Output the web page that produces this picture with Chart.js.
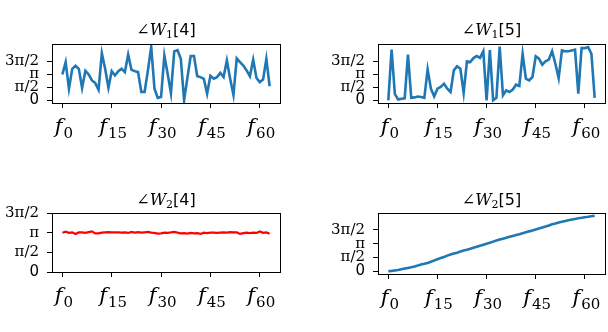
<!DOCTYPE html>
<html>
<head>
<meta charset="UTF-8">
<title>∠W phases</title>
<script src="https://cdn.jsdelivr.net/npm/chart.js"></script>
<style>
  body { margin: 0; background: #fff; }
  #wrap { position: relative; width: 608px; height: 332px; overflow: hidden; }
  canvas { position: absolute; left: 0; top: 0; }
  .title { position: absolute; text-align: center; font-family: 'DejaVu Sans'; font-size: 16px; line-height: 16px; color: #000; white-space: nowrap; }
  .title .m { font-family: 'DejaVu Serif'; }
  .title i { font-family: 'DejaVu Serif'; font-style: italic; }
  .title sub { font-family: 'DejaVu Serif'; font-size: 11px; vertical-align: -3px; line-height: 0; }
</style>
</head>
<body>
<div id="wrap">
  <canvas id="c1" width="608" height="332"></canvas>
  <canvas id="c2" width="608" height="332"></canvas>
  <canvas id="c3" width="608" height="332"></canvas>
  <canvas id="c4" width="608" height="332"></canvas>
  <div class="title" style="left:52px;width:228px;top:22px"><span class="m">∠<i>W</i><sub>1</sub></span>[4]</div>
  <div class="title" style="left:378px;width:227px;top:22px"><span class="m">∠<i>W</i><sub>1</sub></span>[5]</div>
  <div class="title" style="left:52px;width:228px;top:192px"><span class="m">∠<i>W</i><sub>2</sub></span>[4]</div>
  <div class="title" style="left:378px;width:227px;top:192px"><span class="m">∠<i>W</i><sub>2</sub></span>[5]</div>
</div>
<script>
// frequency ticks: f with a subscript index
var freqTicks = [0, 15, 30, 45, 60];
var freqSubs = ['0', '15', '30', '45', '60'];

// phase ticks
var phaseTicks = [0, Math.PI / 2, Math.PI, 3 * Math.PI / 2];
var phaseLabels = ['0', 'π/2', 'π', '3π/2'];

// phase of W1[4], W1[5], W2[4], W2[5] (radians), one value per frequency bin f0..f63
var w1_4 = [3.12, 4.6, 1.4, 3.8, 4.16, 3.8, 1.48, 3.56, 3.12, 2.4,
            2.08, 1.28, 5.68, 3.8, 1.52, 3.52, 3.0, 3.52, 3.8, 3.4,
            5.52, 3.68, 3.52, 3.4, 1.0, 1.0, 3.6, 6.47, 1.4, 0.3,
            0.4, 5.4, 3.2, 0.85, 5.9, 6.05, 5.0, 0.0, 2.7, 5.35,
            5.35, 2.9, 2.8, 2.6, 0.8, 2.95, 2.6, 2.8, 3.3, 2.8,
            4.8, 2.6, 0.65, 5.05, 4.6, 4.2, 3.6, 2.9, 4.9, 2.7,
            2.2, 2.5, 5.0, 1.7];

var w1_5 = [0.0, 6.1, 0.75, 0.1, 0.2, 0.25, 5.5, 0.3, 0.35, 0.45,
            0.4, 0.3, 3.72, 1.4, 0.48, 1.4, 1.6, 2.0, 1.4, 1.0,
            3.6, 4.1, 3.8, 0.9, 4.68, 4.6, 5.08, 5.32, 5.1, 5.9,
            0.0, 6.05, 0.0, 0.3, 6.45, 0.6, 1.2, 1.0, 1.3, 1.88,
            1.72, 5.6, 2.6, 2.4, 2.8, 5.3, 5.0, 4.28, 4.7, 4.9,
            5.9, 4.4, 2.68, 6.0, 5.9, 5.9, 6.0, 6.1, 0.8, 6.28,
            6.28, 6.4, 5.6, 0.3];

var w2_4 = [3.14, 3.22, 3.13, 3.17, 3.04, 3.16, 3.16, 3.12, 3.18, 3.24,
            3.08, 3.08, 3.14, 3.17, 3.18, 3.16, 3.17, 3.17, 3.14, 3.16,
            3.12, 3.2, 3.14, 3.18, 3.14, 3.17, 3.2, 3.15, 3.12, 3.06,
            3.09, 3.14, 3.13, 3.16, 3.2, 3.14, 3.09, 3.1, 3.06, 3.12,
            3.08, 3.1, 3.04, 3.14, 3.11, 3.14, 3.14, 3.12, 3.14, 3.16,
            3.15, 3.18, 3.17, 3.16, 3.04, 3.1, 3.14, 3.1, 3.14, 3.12,
            3.24, 3.13, 3.16, 3.06];

var w2_5 = [0.0, 0.04, 0.09, 0.13, 0.22, 0.3, 0.38, 0.46, 0.55, 0.65,
            0.76, 0.85, 0.95, 1.08, 1.22, 1.38, 1.5, 1.62, 1.78, 1.9,
            2.02, 2.12, 2.24, 2.36, 2.45, 2.56, 2.68, 2.8, 2.92, 3.02,
            3.14, 3.25, 3.38, 3.5, 3.61, 3.72, 3.82, 3.93, 4.03, 4.13,
            4.22, 4.33, 4.44, 4.55, 4.64, 4.76, 4.88, 4.99, 5.1, 5.22,
            5.35, 5.44, 5.55, 5.65, 5.74, 5.82, 5.9, 5.97, 6.04, 6.1,
            6.17, 6.22, 6.28, 6.33];

var Y_AXIS_W = 50;
var X_AXIS_H = 40;

// black box round the plot area
var frameBox = {
  id: 'frameBox',
  afterDraw: function(chart) {
    var a = chart.chartArea;
    var ctx = chart.ctx;
    ctx.save();
    ctx.strokeStyle = '#000';
    ctx.lineWidth = 1;
    ctx.strokeRect(Math.round(a.left) + 0.5, Math.round(a.top) + 0.5,
                   Math.round(a.right - a.left), Math.round(a.bottom - a.top));
    ctx.restore();
  }
};

// x tick labels: italic f + upright subscript, placed by the x scale
var freqLabelDraw = {
  id: 'freqLabelDraw',
  afterDraw: function(chart) {
    var sx = chart.scales.x;
    var ctx = chart.ctx;
    var base = chart.chartArea.bottom + 30;
    ctx.save();
    ctx.fillStyle = '#000';
    ctx.textAlign = 'left';
    ctx.textBaseline = 'alphabetic';
    freqTicks.forEach(function(v, i) {
      ctx.font = 'italic 21px "DejaVu Serif"';
      var fw = ctx.measureText('f').width;
      ctx.font = '15px "DejaVu Serif"';
      var sw = ctx.measureText(freqSubs[i]).width;
      var x0 = sx.getPixelForValue(v) - (fw + 1 + sw) / 2 + 1.5;
      ctx.font = 'italic 21px "DejaVu Serif"';
      ctx.fillText('f', x0, base);
      ctx.font = '15px "DejaVu Serif"';
      ctx.fillText(freqSubs[i], x0 + fw + 1, base + 5);
    });
    ctx.restore();
  }
};

function autoRange(values) {
  var lo = Math.min.apply(null, values), hi = Math.max.apply(null, values);
  var m = (hi - lo) * 0.05;
  return [lo - m, hi + m];
}

function makeChart(id, values, color, lineW, area, yRange) {
  var n = values.length - 1;
  new Chart(document.getElementById(id), {
    type: 'line',
    data: {
      datasets: [{
        data: values.map(function(v, i) { return { x: i, y: v }; }),
        borderColor: color,
        borderWidth: lineW,
        pointRadius: 0,
        tension: 0,
        fill: false
      }]
    },
    options: {
      responsive: false,
      animation: false,
      events: [],
      layout: {
        padding: {
          left: area.left - Y_AXIS_W,
          top: area.top,
          right: 608 - area.right,
          bottom: 332 - area.bottom - X_AXIS_H
        }
      },
      plugins: { legend: { display: false }, tooltip: { enabled: false } },
      scales: {
        x: {
          type: 'linear',
          min: -0.05 * n,
          max: n * 1.05,
          afterBuildTicks: function(ax) { ax.ticks = freqTicks.map(function(v) { return { value: v }; }); },
          afterFit: function(ax) { ax.height = X_AXIS_H; },
          ticks: { display: false, autoSkip: false },
          grid: { drawOnChartArea: false, tickLength: 5, color: '#000' },
          border: { display: false }
        },
        y: {
          type: 'linear',
          min: yRange[0],
          max: yRange[1],
          afterBuildTicks: function(ax) { ax.ticks = phaseTicks.map(function(v) { return { value: v }; }); },
          afterFit: function(ax) { ax.width = Y_AXIS_W; },
          ticks: {
            autoSkip: false, padding: 8, color: '#000',
            font: function(c) {
              return c.index === 0 ? { family: 'DejaVu Sans', size: 15 } : { family: 'DejaVu Serif', size: 15 };
            },
            callback: function(v, i) { return phaseLabels[i]; }
          },
          grid: { drawOnChartArea: false, tickLength: 5, color: '#000' },
          border: { display: false }
        }
      }
    },
    plugins: [frameBox, freqLabelDraw]
  });
}

makeChart('c1', w1_4, '#1f77b4', 2.6, { left: 52, right: 280, top: 44, bottom: 103 }, autoRange(w1_4));
makeChart('c2', w1_5, '#1f77b4', 2.6, { left: 378, right: 605, top: 44, bottom: 103 }, autoRange(w1_5));
makeChart('c3', w2_4, '#ff0000', 2.2, { left: 52, right: 280, top: 213, bottom: 272 }, [0, 3 * Math.PI / 2]);
makeChart('c4', w2_5, '#1f77b4', 2.6, { left: 378, right: 605, top: 213, bottom: 274 }, autoRange(w2_5));
</script>
</body>
</html>
